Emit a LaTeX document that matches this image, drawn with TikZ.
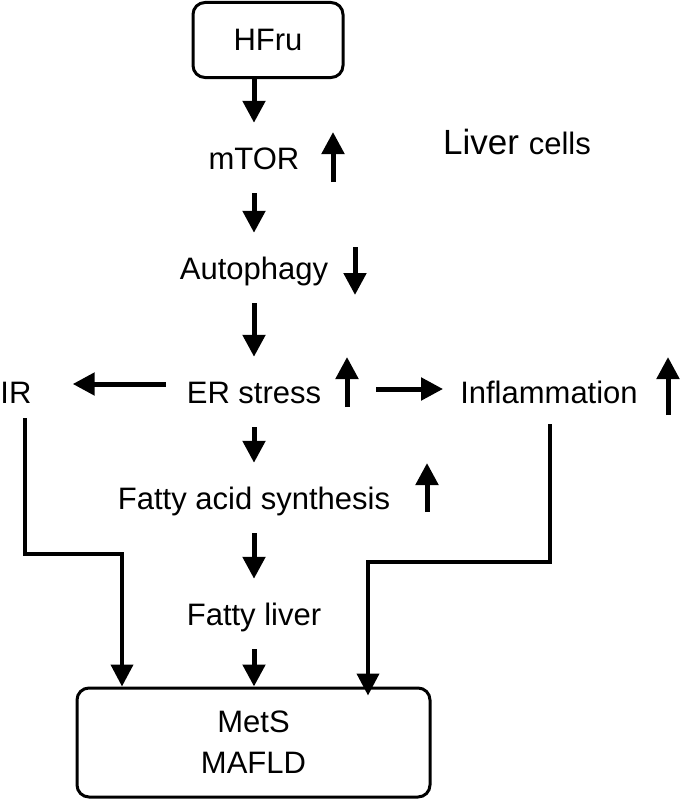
\documentclass[tikz,border=0pt]{standalone}
\usepackage{fontspec}
\setmainfont{Liberation Sans}
\usetikzlibrary{arrows.meta, positioning}

\begin{document}
\begin{tikzpicture}[
            x=1pt, y=-1pt,
            txt/.style={
                font=\fontsize{31}{41}\selectfont,
                inner sep=0pt,
                text height=22pt, text depth=0pt,
                minimum height=70pt
            },
            box/.style={
                draw, line width=3pt, rounded corners=12pt,
                font=\fontsize{31}{41}\selectfont, inner sep=0pt
            },
            flow/.style={-{Triangle[length=22pt, width=22pt]}, line width=5pt},
            feed/.style={flow, line width=4pt}
        ]
        \useasboundingbox (0, 0) rectangle (685, 800);
        \def\colx{254}

        \node[box, minimum width=150pt, minimum height=75pt] (hfru) at (268, 40) {HFru};
        \node[txt] (mtor) at (\colx, 158) {mTOR};
        \node[txt] (auto) at (\colx, 268) {Autophagy};
        \node[txt] (er) at (\colx, 392) {ER stress};
        \node[txt] (ir) at (16, 392) {IR};
        \node[txt] (infl) at (549, 392) {Inflammation};
        \node[txt] (fas) at (\colx, 498) {Fatty acid synthesis};
        \node[txt] (fl) at (\colx, 614) {Fatty liver};
        \node[box, minimum width=353pt, minimum height=109pt, align=center] (mets) at (253.5, 742.5) {MetS\\MAFLD};
        \node[inner sep=0pt] (cells) at (517, 142)
            {\fontsize{35}{40}\selectfont Liver \fontsize{31}{40}\selectfont cells};

        % main chain
        \draw[flow] (mtor.north |- hfru.south) -- (mtor.north);
        \draw[flow] (mtor) -- (auto);
        \draw[flow] (auto) -- (er);
        \draw[flow] (er) -- (fas);
        \draw[flow] (fas) -- (fl);
        \draw[flow] (fl) -- (fl.south |- mets.north);

        % side branches
        \draw[flow] ([shift={(-21,-8)}]er.west) -- ([shift={(41,-8)}]ir.east);
        \draw[flow] ([shift={(55,-3)}]er.east) -- ([shift={(-17,-3)}]infl.west);

        \coordinate (irdrop) at (122, 554);
        \coordinate (infldrop) at (368, 562);
        \draw[feed] ([shift={(9,-9)}]ir.south) |- (irdrop) -- (irdrop |- mets.north);
        \draw[feed] ([shift={(1,-3)}]infl.south) |- (infldrop) -- ([yshift=-9pt]infldrop |- mets.north);

        % up / down marks
        \draw[flow] (333, 182) -- (333, 132);
        \draw[flow] (355, 247) -- (355, 295);
        \draw[flow] (347, 407) -- (347, 357);
        \draw[flow] (668, 415) -- (668, 357);
        \draw[flow] (427, 512) -- (427, 463);
    \end{tikzpicture}
\end{document}
